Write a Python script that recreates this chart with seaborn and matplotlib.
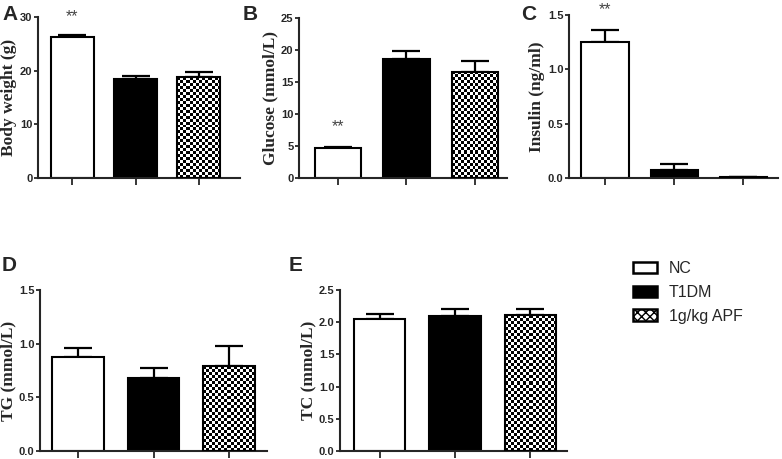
import numpy as np
import pandas as pd
import seaborn as sns
import matplotlib.pyplot as plt
from matplotlib.patches import Patch

# Data
groups = ['NC', 'T1DM', '1g/kg APF']
panel_letters = ['A', 'B', 'C', 'D', 'E']
ylabels = ['Body weight (g)', 'Glucose (mmol/L)', 'Insulin (ng/ml)',
           'TG (mmol/L)', 'TC (mmol/L)']
body_weight = [26.3, 18.5, 18.8]
body_weight_err = [0.3, 0.5, 0.9]
glucose = [4.7, 18.6, 16.6]
glucose_err = [0.1, 1.2, 1.7]
insulin = [1.25, 0.07, 0.005]
insulin_err = [0.11, 0.06, 0.0]
tg = [0.88, 0.68, 0.79]
tg_err = [0.08, 0.09, 0.19]
tc = [2.05, 2.09, 2.11]
tc_err = [0.08, 0.11, 0.09]
ylims = [30, 25, 1.5, 1.5, 2.5]
yticks = [[0, 10, 20, 30], [0, 5, 10, 15, 20, 25], [0.0, 0.5, 1.0, 1.5],
          [0.0, 0.5, 1.0, 1.5], [0.0, 0.5, 1.0, 1.5, 2.0, 2.5]]
ytick_fmt = ['{:.0f}', '{:.0f}', '{:.1f}', '{:.1f}', '{:.1f}']
# significance stars (NC vs T1DM) on panels A, B, C
star_y = [29.2, 7.3, 1.51]

means = [body_weight, glucose, insulin, tg, tc]
errs = [body_weight_err, glucose_err, insulin_err, tg_err, tc_err]

sns.set_style('ticks')
plt.rcParams['font.family'] = ['Liberation Sans', 'DejaVu Sans']
plt.rcParams['axes.linewidth'] = 1.5

W, H = 782, 459
fig = plt.figure(figsize=(W / 100, H / 100), dpi=100)


def px_axes(left, right, top, bottom):
    return fig.add_axes([left / W, 1 - bottom / H, (right - left) / W,
                         (bottom - top) / H])


# axes boxes in pixels: left, right, top, bottom; plus x limits
boxes = [(38, 240, 17, 178), (299, 507, 18, 178), (569, 778, 15, 178),
         (40, 267, 290, 451), (340, 567, 290, 451)]
xlims = [(-0.54, 2.65), (-0.57, 2.47), (-0.52, 2.5), (-0.5, 2.5),
         (-0.53, 2.49)]
letter_pos = [(2, 5), (243, 5), (521, 5), (2, 256), (289, 256)]

palette = {'NC': 'white', 'T1DM': 'black', '1g/kg APF': 'white'}

for i in range(5):
    ax = px_axes(*boxes[i])
    df = pd.DataFrame({'group': groups, 'value': means[i]})
    sns.barplot(data=df, x='group', y='value', hue='group', palette=palette,
                order=groups, hue_order=groups, width=0.68, errorbar=None,
                edgecolor='black', linewidth=1.5, legend=False, ax=ax,
                zorder=2)
    ax.errorbar(range(3), means[i], yerr=[[0, 0, 0], errs[i]], fmt='none',
                ecolor='black', elinewidth=1.6, capsize=10, capthick=1.6,
                zorder=1)
    ax.set_xlim(*xlims[i])
    ax.set_ylim(0, ylims[i])
    ax.set_yticks(yticks[i])
    ax.set_yticklabels([ytick_fmt[i].format(t) for t in yticks[i]],
                       fontsize=8, fontweight='bold')
    ax.set_xticks(range(3))
    ax.set_xticklabels([])
    ax.tick_params(axis='x', length=5, width=1.3, direction='out')
    ax.tick_params(axis='y', length=3, width=1.3, direction='out', pad=1)
    ax.set_xlabel('')
    ax.set_ylabel(ylabels[i], family=['Liberation Serif'], fontsize=12.5,
                  fontweight='bold', labelpad=2)
    sns.despine(ax=ax)

    # checkerboard fill for the APF bar
    fig.canvas.draw()
    bar = ax.patches[2]
    x0, y0 = bar.get_x(), bar.get_y()
    x1, y1 = x0 + bar.get_width(), y0 + bar.get_height()
    (px0, py0), (px1, py1) = ax.transData.transform([(x0, y0), (x1, y1)])
    ncol = max(1, int(round((px1 - px0) / 3)))
    nrow = max(1, int(round((py1 - py0) / 3)))
    checker = np.indices((nrow, ncol)).sum(axis=0) % 2
    bar.set_facecolor('none')
    bar.set_zorder(3)
    im = ax.imshow(checker, cmap='gray', extent=(x0, x1, y0, y1),
                   aspect='auto', interpolation='nearest', zorder=2.5)
    im.set_clip_path(bar)
    ax.set_xlim(*xlims[i])
    ax.set_ylim(0, ylims[i])

    if i < 3:
        ax.text(0, star_y[i], '**', ha='center', va='baseline', fontsize=11.5,
                color='#444444', clip_on=False)

    lx, ly = letter_pos[i]
    fig.text(lx / W, 1 - ly / H, panel_letters[i], ha='left', va='top',
             fontsize=15, fontweight='bold')

handles = [Patch(facecolor='white', edgecolor='black', linewidth=1.8,
                 label='NC'),
           Patch(facecolor='black', edgecolor='black', linewidth=1.8,
                 label='T1DM'),
           Patch(facecolor='white', edgecolor='black', linewidth=1.8,
                 hatch='xxxx', label='1g/kg APF')]
fig.legend(handles=handles, loc='upper left',
           bbox_to_anchor=(633 / W, 1 - 261 / H), frameon=False,
           fontsize=11.5, handlelength=1.5, handleheight=0.7,
           handletextpad=0.75, labelspacing=0.55, borderpad=0,
           borderaxespad=0)

fig.savefig('out.png', dpi=100)
